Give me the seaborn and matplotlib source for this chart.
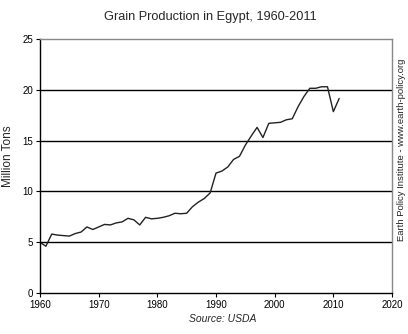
import matplotlib
matplotlib.use("Agg")
import matplotlib.pyplot as plt
import seaborn as sns
import pandas as pd

years = list(range(1960, 2012))
production = [5.0, 4.6, 5.8, 5.7, 5.65, 5.6, 5.85, 6.0, 6.5, 6.25,
              6.5, 6.75, 6.7, 6.9, 7.0, 7.35, 7.2, 6.7, 7.45, 7.3,
              7.35, 7.45, 7.6, 7.85, 7.8, 7.85, 8.5, 8.95, 9.3, 9.85,
              11.8, 12.0, 12.4, 13.15, 13.45, 14.55, 15.45, 16.3, 15.3, 16.7,
              16.75, 16.8, 17.05, 17.15, 18.35, 19.35, 20.15, 20.15, 20.3, 20.3,
              17.85, 19.15]
title = "Grain Production in Egypt, 1960-2011"
ylabel = "Million Tons"
source = "Source: USDA"
credit = "Earth Policy Institute - www.earth-policy.org"

df = pd.DataFrame({"year": years, "value": production})

sns.set_style("white")
plt.rcParams['font.family'] = ['Liberation Sans', 'DejaVu Sans']

fig = plt.figure(figsize=(4.08, 3.34), dpi=100)
ax = fig.add_axes([40/408, 41/334, 352/408, 254/334])
sns.lineplot(data=df, x="year", y="value", ax=ax, color="#222222", linewidth=1.0)

ax.set_xlim(1960, 2020)
ax.set_ylim(0, 25)
ax.set_xticks(range(1960, 2021, 10))
ax.set_yticks(range(0, 26, 5))
for y in [5, 10, 15, 20]:
    ax.axhline(y, color="black", linewidth=1.0, zorder=0)
ax.tick_params(axis="both", labelsize=7, length=3, width=0.8, direction="out",
               bottom=True, left=True, colors="black", pad=2)
for s in ["left", "bottom"]:
    ax.spines[s].set_color("black")
    ax.spines[s].set_linewidth(1.0)
for s in ["top", "right"]:
    ax.spines[s].set_color("#888888")
    ax.spines[s].set_linewidth(1.0)
ax.set_xlabel("")
ax.set_ylabel("")
fig.text(8/408, 1 - 156/334, ylabel, ha="center", va="center", fontsize=8.5, rotation=90)
fig.text(210/408, 1 - 17/334, title, ha="center", va="center", fontsize=9.2)
fig.text(223/408, 1 - 319/334, source, ha="center", va="center", fontsize=7.5, style="italic")
fig.text(401/408, 1 - 150/334, credit, ha="center", va="center", fontsize=6.8, rotation=90)

fig.savefig("out.png", dpi=100)
